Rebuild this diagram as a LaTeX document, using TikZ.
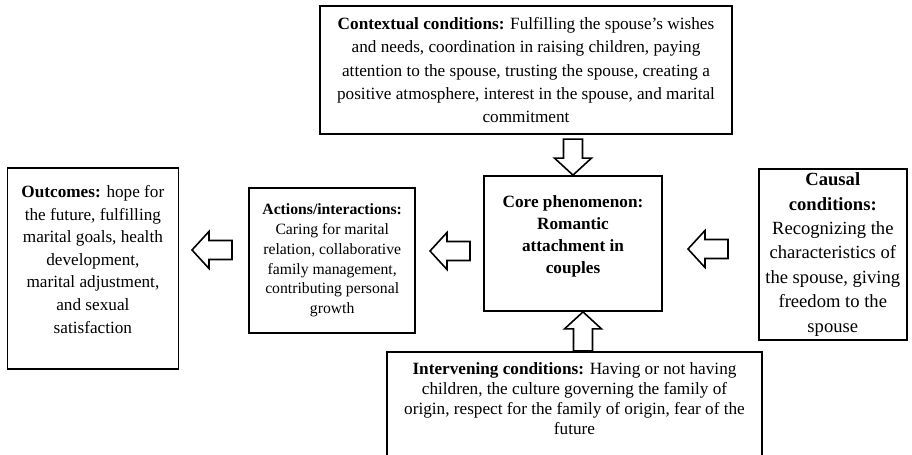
\documentclass[tikz,border=0pt]{standalone}
\usepackage{fontspec}
\setmainfont{Liberation Serif}
\usepackage{tikz}
\usetikzlibrary{positioning, calc}
\tikzset{
  condNode/.style = {draw=black, line width=0.9pt, align=center, inner sep=2pt,
    font=\fontsize{8.6}{11.3}\selectfont},% boite de conditions
  coreNode/.style = {condNode, font=\fontsize{8.6}{11}\selectfont\bfseries},% phenomene central, gras
  blockArrow/.style = {draw=black, line width=0.8pt, fill=white, line join=miter},% fleche creuse
}
\newcommand{\fatArrow}[2]{% #1 queue, #2 pointe
  \coordinate (#1-h) at ($(#2)!8.5pt!(#1)$);
  \draw[blockArrow] ($(#1)!4.75pt!90:(#2)$) -- ($(#1-h)!4.75pt!90:(#2)$)
    -- ($(#1-h)!9.25pt!90:(#2)$) -- (#2) -- ($(#1-h)!9.25pt!-90:(#2)$)
    -- ($(#1-h)!4.75pt!-90:(#2)$) -- ($(#1)!4.75pt!-90:(#2)$) -- cycle;
}
\begin{document}
\begin{tikzpicture}[x=0.5pt, y=-0.5pt]
\useasboundingbox (0,0) rectangle (912,455);
\node [coreNode, minimum width=89pt, minimum height=67.5pt] (core) at (573,243.5)
  {Core phenomenon:\\ Romantic\\ attachment in\\ couples\\[-2pt]\mbox{}};
\node [condNode, font=\fontsize{8.6}{11.6}\selectfont, minimum width=206pt, minimum height=64pt,
  above=20pt of core, xshift=-23.5pt] (context)
  {\textbf{Contextual conditions:} Fulfilling the spouse’s wishes\\
   and needs, coordination in raising children, paying\\
   attention to the spouse, trusting the spouse, creating a\\
   positive atmosphere, interest in the spouse, and marital\\
   commitment};
\node [condNode, font=\fontsize{7.85}{9.9}\selectfont, minimum width=83pt, minimum height=72.5pt,
  left=33.5pt of core, yshift=-8.5pt] (actions)
  {\textbf{Actions/interactions:}\\ Caring for marital\\ relation, collaborative\\
   family management,\\ contributing personal\\ growth};
\node [condNode, minimum width=85.5pt, minimum height=100.5pt, left=34.5pt of actions, yshift=-4pt] (outcomes)
  {\textbf{Outcomes:} hope for\\ the future, fulfilling\\ marital goals, health\\ development,\\
   marital adjustment,\\ and sexual\\ satisfaction\\[-2pt]\mbox{}};
\node [condNode, font=\fontsize{9.3}{12.2}\selectfont, inner xsep=0.5pt, inner ysep=1pt, minimum width=74pt,
  minimum height=85.5pt, right=47.5pt of core, yshift=-5.5pt] (causal)
  {\textbf{Causal}\\ \textbf{conditions:}\\ Recognizing the\\ characteristics of\\
   the spouse, giving\\ freedom to the\\ spouse};
\node [condNode, font=\fontsize{8.6}{10}\selectfont, minimum width=187.5pt, minimum height=55pt,
  below=19.5pt of core, xshift=0.75pt] (interv)
  {\textbf{Intervening conditions:} Having or not having\\
   children, the culture governing the family of\\
   origin, respect for the family of origin, fear of the\\
   future\\[-1.5pt]\mbox{}};
\coordinate (actT) at (232,250);
\coordinate (outP) at (192,250);
\coordinate (coreT) at (470,251);
\coordinate (actP) at (430,251);
\coordinate (causT) at (728,249);
\coordinate (coreP) at (688,249);
\coordinate[yshift=-2pt] (ctxT) at (core.north |- context.south);
\coordinate (ctxP) at (core.north);
\coordinate[xshift=5pt] (intT) at (core.south |- interv.north);
\coordinate[xshift=5pt] (intP) at (core.south);
\fatArrow{actT}{outP}
\fatArrow{coreT}{actP}
\fatArrow{causT}{coreP}
\fatArrow{ctxT}{ctxP}
\fatArrow{intT}{intP}
\end{tikzpicture}
\end{document}
